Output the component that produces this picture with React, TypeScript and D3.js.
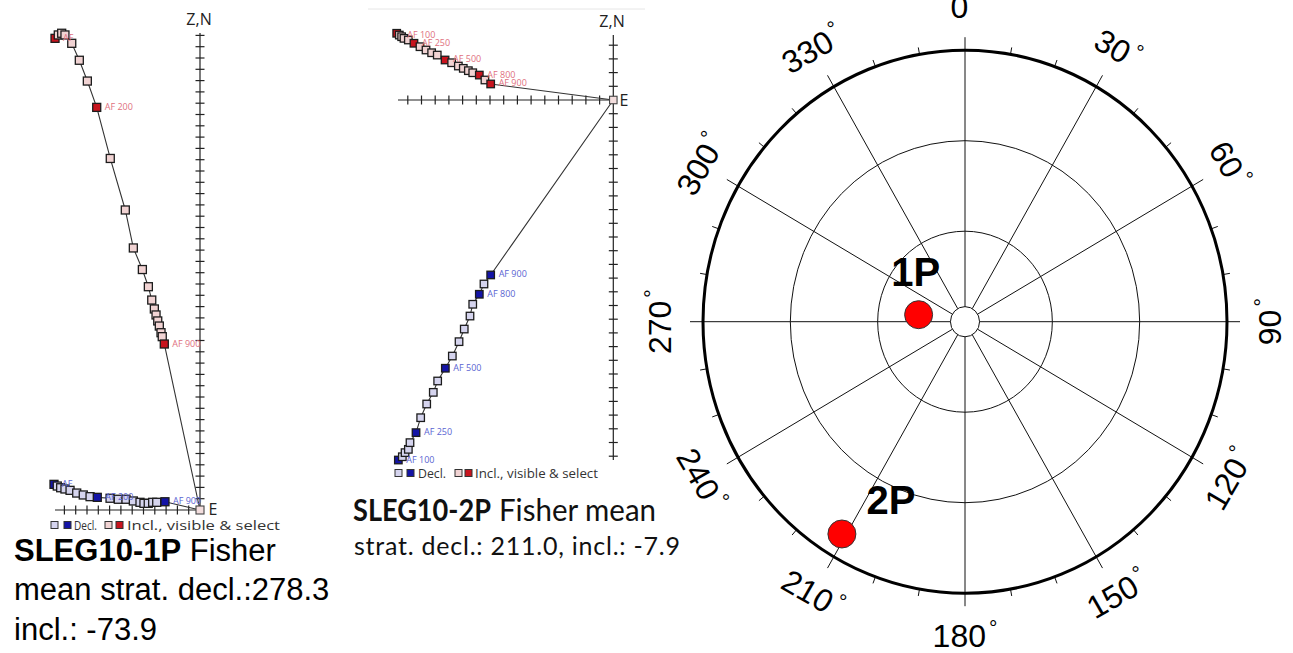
import React from "react";
import * as d3 from "d3";

const W = 1293;
const H = 653;

// ---------- SLEG10-1P orthogonal plot (units = axis ticks) ----------
const z1Decl: [number, number][] = [
  [-12.92, 2.27], [-12.63, 2.12], [-12.33, 1.97], [-11.95, 1.86], [-11.5, 1.74],
  [-10.91, 1.5], [-10.33, 1.33], [-9.73, 1.18], [-9.09, 1.12], [-7.96, 1.04],
  [-7.23, 0.95], [-6.55, 0.95], [-5.9, 0.8], [-5.31, 0.68], [-4.96, 0.59],
  [-4.58, 0.59], [-4.19, 0.68], [-3.83, 0.68], [-3.1, 0.73],
];
const z1DeclSel = [0, 8, 18];
const z1DeclLabels: [number, string][] = [[0, "AF"], [8, "AF 200"], [18, "AF 900"]];

const z1Incl: [number, number][] = [
  [-12.83, 41.74], [-12.54, 42.04], [-12.24, 42.19], [-11.95, 42.04], [-11.35, 41.3],
  [-10.68, 39.8], [-9.97, 37.96], [-9.14, 35.63], [-7.94, 31.11], [-6.61, 26.55],
  [-5.9, 23.19], [-5.1, 21.28], [-4.57, 19.76], [-4.27, 18.58], [-4.04, 17.79],
  [-3.89, 17.26], [-3.74, 16.73], [-3.6, 16.28], [-3.45, 15.69], [-3.34, 15.34],
  [-3.16, 14.69],
];
const z1InclSel = [0, 7, 20];
const z1InclLabels: [number, string][] = [[0, "AF"], [7, "AF 200"], [20, "AF 900"]];

// ---------- SLEG10-2P orthogonal plot ----------
const z2Decl: [number, number][] = [
  [-15.69, -26.28], [-15.4, -26.04], [-15.2, -25.74], [-14.96, -25.5], [-14.84, -25.01],
  [-14.4, -24.28], [-14.06, -23.19], [-13.62, -22.19], [-13.14, -21.34], [-12.82, -20.51],
  [-12.26, -19.58], [-11.75, -18.69], [-11.26, -17.64], [-10.88, -16.72], [-10.46, -15.77],
  [-10.26, -14.91], [-9.78, -14.18], [-9.44, -13.43], [-8.95, -12.77],
];
const z2DeclSel = [0, 5, 10, 16, 18];
const z2DeclLabels: [number, string][] = [
  [0, "AF 100"], [5, "AF 250"], [10, "AF 500"], [16, "AF 800"], [18, "AF 900"],
];

const z2Incl: [number, number][] = [
  [-15.81, 4.87], [-15.62, 4.74], [-15.45, 4.62], [-15.28, 4.5], [-14.96, 4.38],
  [-14.55, 4.14], [-14.11, 3.89], [-13.67, 3.65], [-13.26, 3.45], [-12.85, 3.28],
  [-12.28, 2.92], [-11.8, 2.72], [-11.31, 2.48], [-10.95, 2.31], [-10.58, 2.14],
  [-10.26, 1.99], [-9.78, 1.82], [-9.37, 1.46], [-8.95, 1.17],
];
const z2InclSel = [0, 5, 10, 16, 18];
const z2InclLabels: [number, string][] = [
  [1, "AF 100"], [5, "AF 250"], [10, "AF 500"], [16, "AF 800"], [18, "AF 900"],
];

// ---------- stereonet ----------
const siteNames = ["1P", "2P"];
const siteDec = [278.3, 211.0];
const siteInc = [-73.9, -7.9];
const ringIncs = [60, 30];
const azLabels = d3.range(0, 360, 30);

// captions
const caption1 = { bold: "SLEG10-1P", rest: [" Fisher", "mean strat. decl.:278.3", "incl.: -73.9"] };
const caption2 = { bold: "SLEG10-2P", rest: ["Fisher mean", "strat. decl.: 211.0, incl.: -7.9"] };

const sans = "'Open Sans', 'Noto Sans', sans-serif";
const helv = "'Liberation Sans', Arial, sans-serif";

type Lay = {
  ox: number; oy: number; unit: number; xMin: number; yMin: number; yMax: number;
  sq: number; axTop: number; axBottom: number; axLeft: number;
  zn: [number, number]; e: [number, number];
  legend: { y: number; xs: number[]; textW: [number, number]; fs: number };
};

const lay1: Lay = {
  ox: 200, oy: 510, unit: 11.3, xMin: -12.8, yMin: 0, yMax: 42.2, sq: 8,
  axTop: 33, axBottom: 510, axLeft: 55,
  zn: [199, 25], e: [213, 515],
  legend: { y: 525, xs: [51, 64, 74, 105, 116, 127], textW: [23, 153], fs: 13 },
};
const lay2: Lay = {
  ox: 613.3, oy: 100, unit: 13.7, xMin: -15.7, yMin: -26.3, yMax: 4.75, sq: 7.5,
  axTop: 35, axBottom: 460, axLeft: 398,
  zn: [612, 27], e: [624, 106],
  legend: { y: 473, xs: [395, 407, 418, 455, 465, 475], textW: [28, 123], fs: 12 },
};

const declFill = "#d5d4ee";
const declSelFill = "#1414a6";
const inclFill = "#f1d3d3";
const inclSelFill = "#c8141e";

function Zijderveld(props: {
  decl: [number, number][]; incl: [number, number][];
  declSel: number[]; inclSel: number[];
  declLabels: [number, string][]; inclLabels: [number, string][];
  lay: Lay;
}) {
  const { decl, incl, declSel, inclSel, declLabels, inclLabels, lay } = props;
  const x = d3.scaleLinear().domain([0, 1]).range([lay.ox, lay.ox + lay.unit]);
  const y = d3.scaleLinear().domain([0, 1]).range([lay.oy, lay.oy - lay.unit]);
  const line = d3.line<[number, number]>().x((d) => x(d[0])).y((d) => y(d[1]));
  const hTicks = d3.range(Math.ceil(lay.xMin), 0);
  const vTicks = d3.range(Math.ceil(lay.yMin), Math.floor(lay.yMax) + 1).filter((v) => v !== 0);
  const s = lay.sq;
  const tk = 4.5;

  const squares = (pts: [number, number][], sel: number[], fill: string, selFill: string) =>
    pts.map((d, i) => (
      <rect
        key={i}
        x={x(d[0]) - s / 2}
        y={y(d[1]) - s / 2}
        width={s}
        height={s}
        fill={sel.includes(i) ? selFill : fill}
        stroke="#1c1c1c"
        strokeWidth={1.3}
      />
    ));

  const labels = (pts: [number, number][], labs: [number, string][], color: string) =>
    labs.map(([i, t]) => (
      <text key={t + i} x={x(pts[i][0]) + 8} y={y(pts[i][1]) + 2.5} fontSize={9} fill={color} fontFamily={sans}>
        {t}
      </text>
    ));

  const L = lay.legend;
  return (
    <g>
      {/* axes */}
      <g stroke="#222" strokeWidth={1.2}>
        <line x1={lay.ox} x2={lay.ox} y1={lay.axTop} y2={lay.axBottom} />
        <line x1={lay.axLeft} x2={lay.ox} y1={lay.oy} y2={lay.oy} />
        {hTicks.map((t) => (
          <line key={"h" + t} x1={x(t)} x2={x(t)} y1={lay.oy - tk} y2={lay.oy + tk} />
        ))}
        {vTicks.map((t) => (
          <line key={"v" + t} x1={lay.ox - tk} x2={lay.ox + tk} y1={y(t)} y2={y(t)} />
        ))}
      </g>
      <text x={lay.zn[0]} y={lay.zn[1]} textAnchor="middle" fontSize={16} fill="#222" fontFamily={sans}>Z,N</text>
      <text x={lay.e[0]} y={lay.e[1]} textAnchor="middle" fontSize={16} fill="#222" fontFamily={sans}>E</text>

      {/* paths */}
      <path d={line([...decl, [0, 0]]) || ""} fill="none" stroke="#333" strokeWidth={1.1} />
      <path d={line([...incl, [0, 0]]) || ""} fill="none" stroke="#333" strokeWidth={1.1} />
      {squares(decl, declSel, declFill, declSelFill)}
      {squares(incl, inclSel, inclFill, inclSelFill)}
      <rect x={x(0) - s / 2} y={y(0) - s / 2} width={s} height={s} fill="#f3dede" stroke="#444" strokeWidth={1.1} />
      {labels(decl, declLabels, "#5a64d2")}
      {labels(incl, inclLabels, "#e0707e")}

      {/* legend */}
      <g fontFamily={sans} fontSize={L.fs} fill="#333">
        {[declFill, declSelFill].map((c, i) => (
          <rect key={"d" + i} x={L.xs[i]} y={L.y - 3.5} width={7} height={7} fill={c} stroke="#333" strokeWidth={1} />
        ))}
        <text x={L.xs[2]} y={L.y + 4.5} textLength={L.textW[0]} lengthAdjust="spacingAndGlyphs">Decl.</text>
        {[inclFill, inclSelFill].map((c, i) => (
          <rect key={"i" + i} x={L.xs[3 + i]} y={L.y - 3.5} width={7} height={7} fill={c} stroke="#333" strokeWidth={1} />
        ))}
        <text x={L.xs[5]} y={L.y + 4.5} textLength={L.textW[1]} lengthAdjust="spacingAndGlyphs">Incl., visible &amp; select</text>
      </g>
    </g>
  );
}

function Stereonet() {
  const cx = 965;
  const cy = 321.7;
  const rx = 262;
  const ry = 271.5;
  const r = d3.scaleLinear().domain([90, 0]).range([0, 1]);
  const rad = (a: number) => (a * Math.PI) / 180;
  const pos = (az: number, k: number, ex = 0): [number, number] => [
    cx + (rx * k + ex) * Math.sin(rad(az)),
    cy - (ry * k + ex) * Math.cos(rad(az)),
  ];
  const inner = r(85);
  const labelRot = (a: number) => (a < 90 ? a : a < 270 ? a - 180 : a - 360);
  const minorTicks = d3.range(0, 360, 10).filter((a) => a % 30 !== 0);
  const siteOffsets: [number, number][] = [[-3, -29], [49, -20]];

  return (
    <g fontFamily={helv}>
      {ringIncs.map((inc) => (
        <ellipse key={inc} cx={cx} cy={cy} rx={rx * r(inc)} ry={ry * r(inc)} fill="none" stroke="#111" strokeWidth={1} />
      ))}
      <ellipse cx={cx} cy={cy} rx={rx * inner} ry={ry * inner} fill="none" stroke="#111" strokeWidth={1} />
      {azLabels.map((a) => {
        const p0 = pos(a, inner);
        const p1 = pos(a, 1, 13);
        return <line key={a} x1={p0[0]} y1={p0[1]} x2={p1[0]} y2={p1[1]} stroke="#111" strokeWidth={1} />;
      })}
      {minorTicks.map((a) => {
        const p0 = pos(a, 1);
        const p1 = pos(a, 1, 7);
        return <line key={a} x1={p0[0]} y1={p0[1]} x2={p1[0]} y2={p1[1]} stroke="#111" strokeWidth={1} />;
      })}
      <ellipse cx={cx} cy={cy} rx={rx} ry={ry} fill="none" stroke="#000" strokeWidth={3} />
      {azLabels.map((a) => {
        const p = pos(a, 1, 43);
        return (
          <text
            key={a}
            transform={`translate(${p[0]},${p[1]}) rotate(${labelRot(a)})`}
            textAnchor="middle"
            dominantBaseline="central"
            fontSize={32}
            fill="#000"
          >
            {a}
            <tspan fontSize={21} dx={3} dy={-9}>°</tspan>
          </text>
        );
      })}
      {siteNames.map((n, i) => {
        const p = pos(siteDec[i], r(Math.abs(siteInc[i])));
        return (
          <g key={n}>
            <circle cx={p[0]} cy={p[1]} r={14} fill="#ff0000" stroke="#333" strokeWidth={1} />
            <text x={p[0] + siteOffsets[i][0]} y={p[1] + siteOffsets[i][1]} textAnchor="middle" fontSize={40} fontWeight="bold" fill="#000">
              {n}
            </text>
          </g>
        );
      })}
    </g>
  );
}

export default function App() {
  return (
    <svg width={W} height={H} style={{ position: "absolute", left: 0, top: 0, background: "#fff" }}>
      <rect width={W} height={H} fill="#fff" />
      <line x1={368} x2={645} y1={9} y2={9} stroke="#e6e6e6" strokeWidth={1} />

      <Zijderveld decl={z1Decl} incl={z1Incl} declSel={z1DeclSel} inclSel={z1InclSel}
        declLabels={z1DeclLabels} inclLabels={z1InclLabels} lay={lay1} />
      <Zijderveld decl={z2Decl} incl={z2Incl} declSel={z2DeclSel} inclSel={z2InclSel}
        declLabels={z2DeclLabels} inclLabels={z2InclLabels} lay={lay2} />

      {/* captions */}
      <g fontFamily={helv} fontSize={31} fill="#000">
        <text x={14} y={561}>
          <tspan fontWeight="bold">{caption1.bold}</tspan>
          <tspan>{caption1.rest[0]}</tspan>
        </text>
        <text x={14} y={600}>{caption1.rest[1]}</text>
        <text x={14} y={640}>{caption1.rest[2]}</text>
      </g>
      <g fontFamily="Lato, 'Open Sans', sans-serif" fill="#111">
        <text x={353} y={521} fontSize={31} fontWeight="bold" textLength={138} lengthAdjust="spacingAndGlyphs">
          {caption2.bold}
        </text>
        <text x={499} y={521} fontSize={31} textLength={157} lengthAdjust="spacingAndGlyphs">
          {caption2.rest[0]}
        </text>
        <text x={354} y={555} fontSize={25} textLength={326} lengthAdjust="spacing">
          {caption2.rest[1]}
        </text>
      </g>

      <Stereonet />
    </svg>
  );
}
